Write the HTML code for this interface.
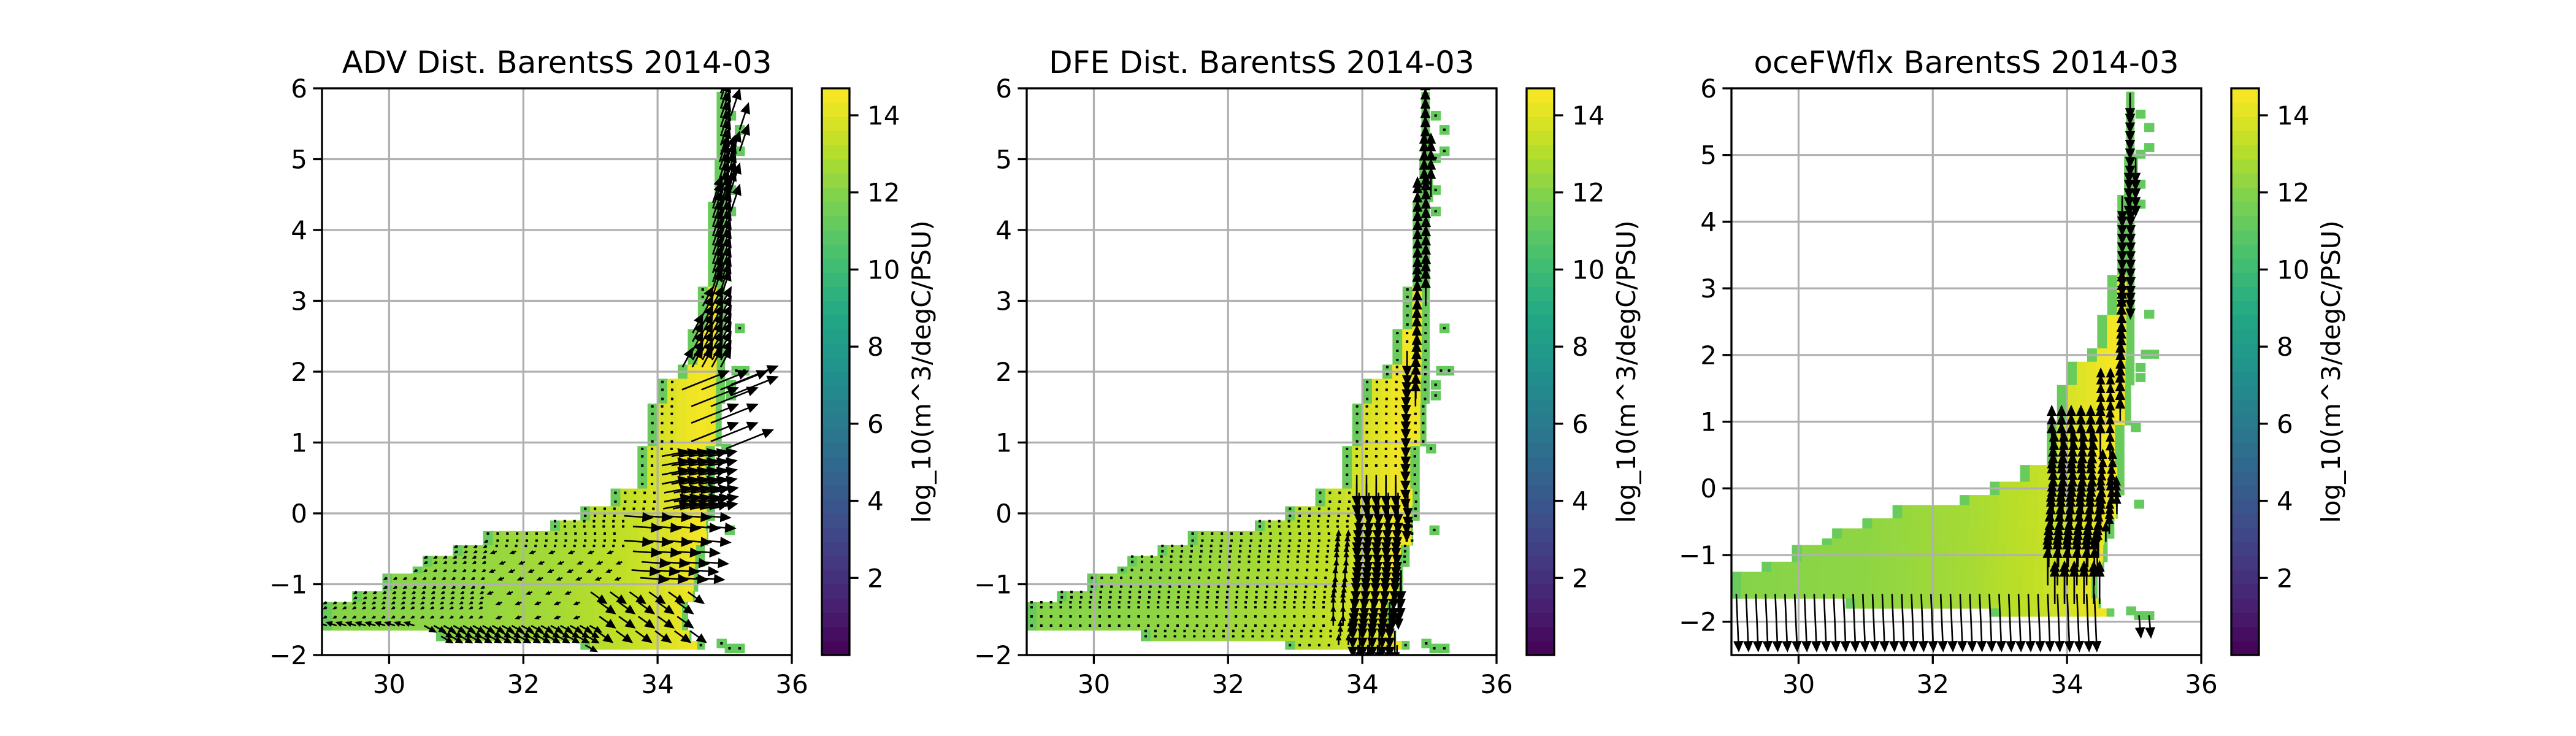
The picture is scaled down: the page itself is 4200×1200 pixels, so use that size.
<!DOCTYPE html>
<html><head><meta charset="utf-8"><style>
html,body{margin:0;padding:0;background:#fff}
svg{display:block}
text{font-family:"DejaVu Sans","Liberation Sans",sans-serif;fill:#000}
</style></head><body>
<svg id="fig" width="4200" height="1200" viewBox="0 0 4200 1200" xmlns="http://www.w3.org/2000/svg"></svg>
<script>
// ---------- data ----------
const panelTitles = ["ADV Dist. BarentsS 2014-03","DFE Dist. BarentsS 2014-03","oceFWflx BarentsS 2014-03"];
const panelYMin = [-2,-2,-2.5];
const panelYMax = [6,6,6];
const xTicks = [30,32,34,36];
const yTicks = [-2,-1,0,1,2,3,4,5,6];
const cbTicks = [2,4,6,8,10,12,14];
const rowY0   = [5.0, 4.4, 3.2, 2.6, 2.1, 1.9, 1.55, 0.95, 0.35, 0.1, -0.1, -0.25, -0.45, -0.6, -0.75, -0.85, -1.1, -1.25, -1.65, -1.8, -1.92];
const rowY1   = [5.95,5.0, 4.4, 3.2, 2.6, 2.1, 1.9, 1.55, 0.95, 0.35, 0.1, -0.1, -0.25, -0.45, -0.6, -0.75, -0.85, -1.1, -1.25, -1.65, -1.8];
const rowXmin = [34.88,34.85,34.75,34.6,34.45,34.3,34.0,33.85,33.7,33.3,32.85,32.4,31.4,30.95,30.5,30.35,29.9,29.45,29.0,30.7,32.85];
const rowXmax = [35.0,35.05,35.0,35.0,35.0,35.0,35.0,34.95,34.85,34.85,34.85,34.75,34.75,34.7,34.7,34.6,34.6,34.55,34.45,34.5,34.7];
const colorX = [29,31,32.5,33.5,34.2,34.6,35.0];
const colorV = [12.0,12.2,12.7,13.3,14.0,14.5,14.3];
const extraX = [35.02,35.15,35.15,35.02,35.02,35.02,35.15,35.1,35.22,35.02,35.02,34.95,35.0,34.88,35.0,35.15];
const extraY = [5.55,5.35,5.05,4.95,4.5,4.2,2.55,1.95,1.95,1.75,1.6,0.85,-0.3,-1.9,-1.97,-1.97];
// arrow regions: x0,x1,y0,y1,u(px),v(px),stride
const arrowsP1 = [
 [34.7,35.3,3.0,6.0,14,-42,1],[34.3,35.1,2.0,3.0,16,-30,1],[34.3,35.2,0.9,2.0,75,-30,2],
 [34.0,34.95,0.0,0.9,42,-8,1],[33.5,34.95,-1.0,0.0,45,3,2],[33.0,34.6,-1.95,-1.0,25,18,2],
 [30.5,33.0,-1.95,-1.5,18,10,1],[29.0,30.5,-1.7,-1.5,-15,-5,1],[31.5,33.5,-1.5,-0.5,-8,3,2],[29.0,31.5,-1.5,-0.3,-4,2,1]];
const arrowsP2 = [
 [34.9,35.05,2.9,6.0,0,-45,1],[34.75,34.9,1.5,4.6,0,-40,1],[34.6,34.75,-0.1,2.4,0,40,1],
 [33.85,34.6,-2.0,0.6,0,50,1],[33.55,33.85,-1.9,-0.3,0,-15,1]];
const arrowsP3 = [
 [29.0,35.4,-1.65,-1.5,4,92,1],[34.8,35.4,-2.0,-1.85,3,35,1],
 [34.9,35.05,2.9,6.0,0,40,1],[34.75,34.9,3.0,4.6,0,40,1],[34.75,34.9,1.0,3.0,0,-35,1],
 [34.5,34.75,-0.8,1.6,0,-30,1],[33.7,34.5,-1.8,0.7,0,-60,1]];
const panelArrows = [arrowsP1,arrowsP2,arrowsP3];
const panelDots = [true,true,false];

// ---------- layout ----------
const NS="http://www.w3.org/2000/svg";
const svg=document.getElementById('fig');
const AX_W=766, AX_H=924, TOP=144, LEFTS=[525,1674,2823], CB_OFF=815, CB_W=45;
const XMIN=29, XMAX=36, DX=0.145, DY=0.13, CBMAX=14.7;
const VIR=["#440154","#482475","#414487","#355f8d","#2a788e","#21918c","#22a884","#44bf70","#7ad151","#bddf26","#fde725"];
function hex(h){return [1,3,5].map(i=>parseInt(h.substr(i,2),16));}
function viridis(t){t=Math.max(0,Math.min(1,t));const p=t*10,i=Math.min(9,Math.floor(p)),f=p-i;const a=hex(VIR[i]),b=hex(VIR[i+1]);return `rgb(${a.map((v,k)=>Math.round(v+(b[k]-v)*f)).join(',')})`;}
function interp(x){if(x<=colorX[0])return colorV[0];for(let i=1;i<colorX.length;i++){if(x<=colorX[i]){const f=(x-colorX[i-1])/(colorX[i]-colorX[i-1]);return colorV[i-1]+f*(colorV[i]-colorV[i-1]);}}return colorV[colorV.length-1];}
function el(tag,attrs,parent){const e=document.createElementNS(NS,tag);for(const k in attrs)e.setAttribute(k,attrs[k]);(parent||svg).appendChild(e);return e;}

for(let p=0;p<3;p++){
  const L=LEFTS[p], ymin=panelYMin[p], ymax=panelYMax[p];
  const sx=v=>L+(v-XMIN)/(XMAX-XMIN)*AX_W;
  const sy=v=>TOP+(ymax-v)/(ymax-ymin)*AX_H;
  const g=el('g',{});
  
  
  const clipId='clip'+p;
  const cp=el('clipPath',{id:clipId},g);el('rect',{x:L,y:TOP,width:AX_W,height:AX_H},cp);
  const plot=el('g',{'clip-path':`url(#${clipId})`},g);
  
  
  const cells=[];
  let sub=0;
  for(let r=0;r<rowY0.length;r++){
    for(let y=rowY0[r];y<rowY1[r]-0.01;y+=DY){
      const y1=Math.min(y+DY,rowY1[r]);
      let first=true, ci=0;
      sub++;
      for(let x=rowXmin[r];x<rowXmax[r]-0.01;x+=DX){
        const x1=Math.min(x+DX,rowXmax[r]);
        const edge=first||x1>=rowXmax[r]-0.001;first=false;
        const v=edge?11.3:interp(x+DX/2);
        cells.push([x,x1,y,y1,v,ci,sub]);
        ci++;
      }
    }
  }
  for(let i=0;i<extraX.length;i++)cells.push([extraX[i],extraX[i]+DX,extraY[i],extraY[i]+DY,11.2,0,0]);
  for(const c of cells){
    const rc=el('rect',{x:sx(c[0]),y:sy(c[3]),width:sx(c[1])-sx(c[0])+0.6,height:sy(c[2])-sy(c[3])+0.6,fill:viridis(c[4]/CBMAX)},plot);
    
    
  }
  for(const t of xTicks){const gl=el('line',{x1:sx(t),x2:sx(t),y1:TOP,y2:TOP+AX_H,stroke:'#b0b0b0','stroke-width':3.2},g);}
  for(const t of yTicks){if(t<ymin)continue;const gl=el('line',{x1:L,x2:L+AX_W,y1:sy(t),y2:sy(t),stroke:'#b0b0b0','stroke-width':3.2},g);}
  const ag=el('g',{'clip-path':`url(#${clipId})`},g);
  
  
  const regs=panelArrows[p];
  for(const c of cells){
    const cx=(c[0]+c[1])/2, cy=(c[2]+c[3])/2;
    let reg=null;for(const R of regs){if(cx>=R[0]&&cx<=R[1]&&cy>=R[2]&&cy<=R[3]){reg=R;break;}}
    const x0=sx(cx), y0=sy(cy);
    if(!reg){
      if(panelDots[p]){const d=el('rect',{x:x0-2,y:y0-2,width:4,height:4,fill:'#000'},ag);}
      continue;
    }
    const s=reg[6];
    if(s>1 && (c[5]%s!==0 || c[6]%s!==0)) continue;
    const u=reg[4], v=reg[5], len=Math.hypot(u,v), ux=u/len, uy=v/len, h=Math.min(14,len*0.4), w=h*0.45;
    const xe=x0+u, ye=y0+v, xb=xe-ux*h, yb=ye-uy*h;
    const a=el('path',{d:`M${x0},${y0}L${xb},${yb}M${xe},${ye}L${xb-uy*w},${yb+ux*w}L${xb+uy*w},${yb-ux*w}Z`,stroke:'#000','stroke-width':2.6,fill:'#000'},ag);
    
    
  }
  const sp=el('rect',{x:L,y:TOP,width:AX_W,height:AX_H,fill:'none',stroke:'#000','stroke-width':3.3},g);
  
  for(const t of xTicks){
    el('line',{x1:sx(t),x2:sx(t),y1:TOP+AX_H,y2:TOP+AX_H+14.6,stroke:'#000','stroke-width':3.3},g);
    const tx=el('text',{x:sx(t),y:TOP+AX_H+62,'font-size':42,'text-anchor':'middle'},g);tx.textContent=t;
    
  }
  for(const t of yTicks){
    if(t<ymin)continue;
    el('line',{x1:L-14.6,x2:L,y1:sy(t),y2:sy(t),stroke:'#000','stroke-width':3.3},g);
    const ty=el('text',{x:L-24,y:sy(t)+15,'font-size':42,'text-anchor':'end'},g);ty.textContent=(t<0?'\u2212'+(-t):t);
    
  }
  const tt=el('text',{x:L+AX_W/2,y:119,'font-size':50,'text-anchor':'middle'},g);tt.textContent=panelTitles[p];
  
  const cbx=L+CB_OFF;
  const cb=el('g',{},g);
  const NB=40;
  for(let i=0;i<NB;i++){
    const y1=TOP+AX_H-(i+1)*AX_H/NB;
    el('rect',{x:cbx,y:y1,width:CB_W,height:AX_H/NB+0.6,fill:viridis((i+0.5)/NB)},cb);
  }
  el('rect',{x:cbx,y:TOP,width:CB_W,height:AX_H,fill:'none',stroke:'#000','stroke-width':3.3},cb);
  for(const t of cbTicks){
    const y=TOP+AX_H-t/CBMAX*AX_H;
    el('line',{x1:cbx+CB_W,x2:cbx+CB_W+14.6,y1:y,y2:y,stroke:'#000','stroke-width':3.3},cb);
    const ct=el('text',{x:cbx+CB_W+29,y:y+15,'font-size':42},cb);ct.textContent=t;
    
  }
  const cl=el('text',{x:0,y:0,'font-size':42,'text-anchor':'middle',transform:`translate(${L+992},${TOP+AX_H/2}) rotate(-90)`},cb);
  cl.textContent='log_10(m^3/degC/PSU)';
  
}
</script>
</body></html>
